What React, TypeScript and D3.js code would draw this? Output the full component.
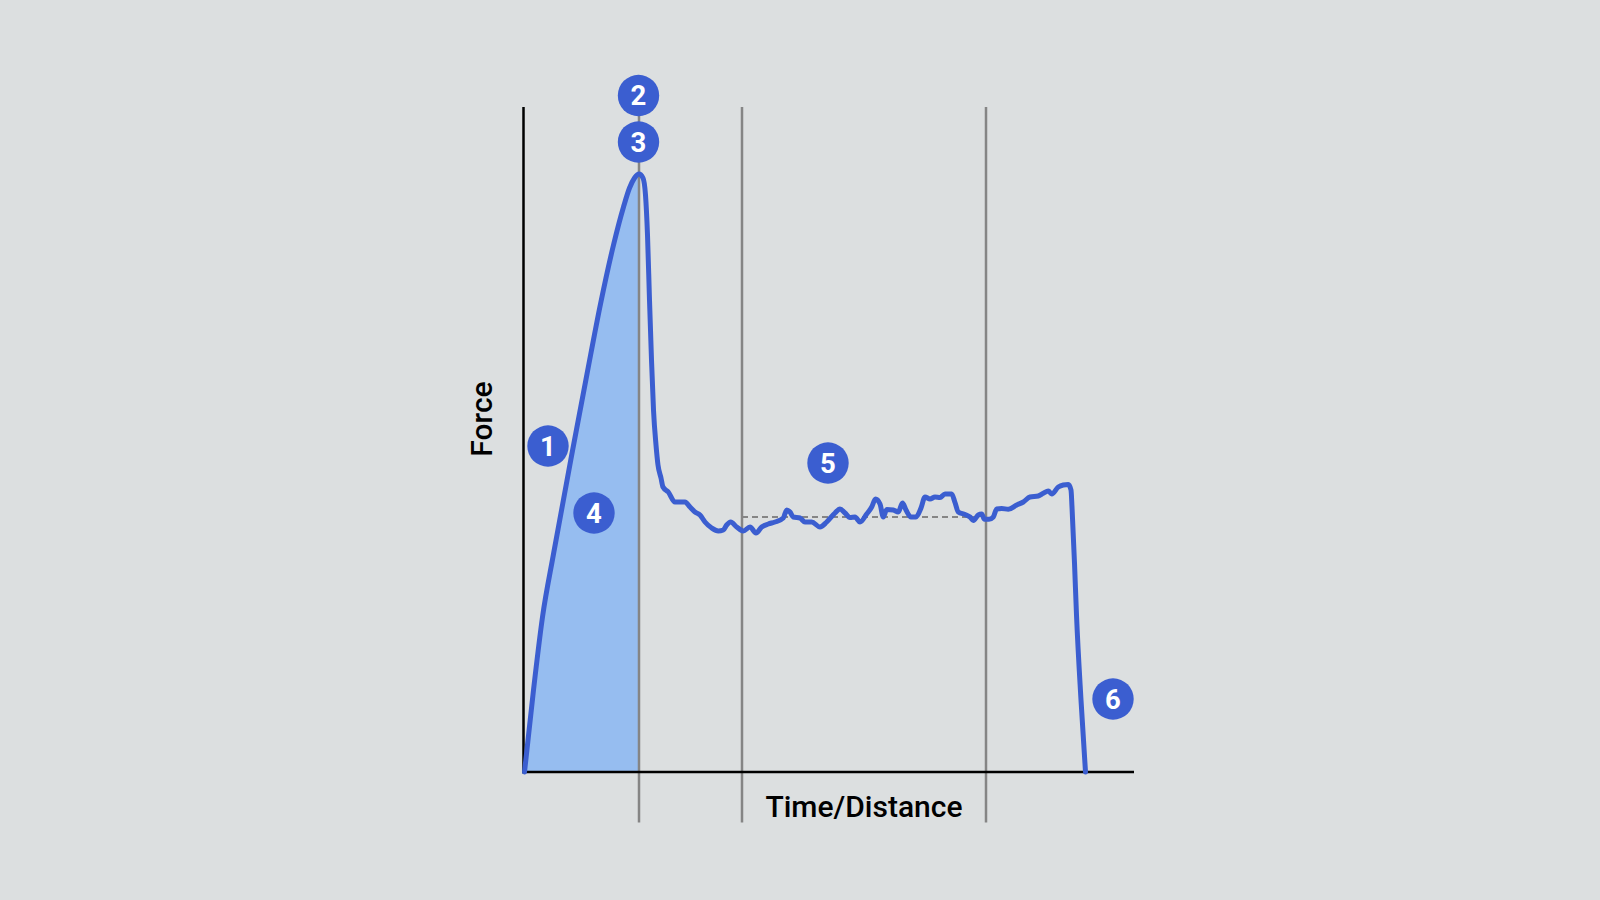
import React from "react";
import * as d3 from "d3";

// Force curve (time/distance units, force units)
const riseT = [1, 10, 19, 30, 48, 63.5, 77, 90, 100, 106, 111, 115.5];
const riseF = [0, 82, 155, 218, 316, 398, 468, 527, 565, 584, 594, 598];

const restT = [
  119.5, 122, 124, 126, 128, 130, 132.5, 134.5, 137.5, 139.5, 144.8, 151.5, 158.2, 161.5, 166.5,
  171.5, 176.5, 181.5, 188.2, 194.8, 199.8, 203.2, 207.2, 213.2, 219.8, 226.5, 232.5, 238.2, 244.8,
  251.5, 259.8, 263.2, 266.5, 269.8, 276.5, 281.5, 288.2, 296.5, 303.2, 311.5, 316.5, 321.5, 326.5,
  331.5, 336.5, 343.2, 348.2, 352, 356.5, 359.8, 363.2, 369.8, 374.8, 379, 382.5, 387.5, 392.5,
  397.5, 401.5, 406.5, 411.5, 416.5, 421.5, 428.2, 431.5, 434.8, 441.5, 446.5, 449.8, 454.8, 458.2,
  461, 465.5, 469.8, 473.2, 478.2, 484.8, 493.2, 499.8, 506.5, 514.8, 519.8, 524.8, 528.2, 534.8,
  539.8, 544.8, 547.5, 548.5, 551, 553, 557.5, 562,
];
const restF = [
  594, 577, 537, 472, 412, 362, 327, 307, 294, 285, 280, 270, 270, 270, 265,
  260, 257, 250, 244, 241, 242, 247, 250, 245, 241, 245, 239, 245, 248,
  250, 254, 262, 260, 255, 254, 250, 250, 245, 250, 259, 263, 259, 254.5,
  255, 250, 258, 265, 273, 268, 255, 262.5, 262, 260, 269, 262, 255, 255,
  264, 275, 273, 275, 274.5, 278, 278, 269.5, 260, 257.5, 255, 251.5, 257, 258,
  252.7, 252.7, 255, 263, 263.5, 262.7, 267, 270, 275, 276, 278.7, 281, 278, 285,
  287, 287.5, 282, 265, 209, 157, 72, 0,
];

// Reference lines
const gridT = [115.5, 218.5, 462.5];
const meanForce = 255;
const meanFrom = 218.5;
const meanTo = 462.5;

// Numbered callouts
const calloutLabels = ["1", "2", "3", "4", "5", "6"];
const calloutT = [24.5, 115, 115, 70.5, 304.5, 589.5];
const calloutF = [326, 676.5, 630, 259, 309, 73];

const xMax = 610.5;
const yMax = 665;

const BLUE = "#3b5ed0";
const FILL = "#96bdf0";
const GRID = "#858585";
const FONT = "Roboto, 'Noto Sans', sans-serif";

export default function App() {
  const x = d3.scaleLinear().domain([0, xMax]).range([523.5, 1134]);
  const y = d3.scaleLinear().domain([0, yMax]).range([772, 107]);

  const rise = riseT.map((t, i) => [t, riseF[i]] as [number, number]);
  const rest = restT.map((t, i) => [t, restF[i]] as [number, number]);
  const all = rise.concat(rest);

  const line = d3
    .line<[number, number]>()
    .x((d) => x(d[0]))
    .y((d) => y(d[1]))
    .curve(d3.curveMonotoneX);
  const area = d3
    .area<[number, number]>()
    .x((d) => x(d[0]))
    .y0(y(0))
    .y1((d) => y(d[1]))
    .curve(d3.curveMonotoneX);

  return (
    <svg
      width={1600}
      height={900}
      style={{ position: "absolute", left: 0, top: 0, display: "block" }}
    >
      <rect x={0} y={0} width={1600} height={900} fill="#dcdfe0" />
      <path d={area([[0, 0] as [number, number]].concat(rise)) || ""} fill={FILL} />
      {gridT.map((t, i) => (
        <line
          key={i}
          x1={x(t)}
          x2={x(t)}
          y1={y(yMax)}
          y2={y(-50.5)}
          stroke={GRID}
          strokeWidth={2.5}
        />
      ))}
      <line
        x1={x(meanFrom)}
        x2={x(meanTo)}
        y1={y(meanForce)}
        y2={y(meanForce)}
        stroke={GRID}
        strokeWidth={2}
        strokeDasharray="6 4"
      />
      <line x1={x(0)} x2={x(0)} y1={y(yMax)} y2={y(0) + 1.25} stroke="#000" strokeWidth={2.5} />
      <line x1={x(0) - 1.25} x2={x(xMax)} y1={y(0)} y2={y(0)} stroke="#000" strokeWidth={2.5} />
      <path
        d={line(all) || ""}
        fill="none"
        stroke={BLUE}
        strokeWidth={5}
        strokeLinejoin="round"
        strokeLinecap="round"
      />
      {calloutLabels.map((lab, i) => (
        <g key={lab} transform={`translate(${x(calloutT[i])},${y(calloutF[i])})`}>
          <circle r={20.7} fill={BLUE} />
          <text
            y={9.8}
            textAnchor="middle"
            fill="#fff"
            fontFamily={FONT}
            fontWeight={700}
            fontSize={27.5}
          >
            {lab}
          </text>
        </g>
      ))}
      <text
        transform="translate(491.5,419) rotate(-90)"
        textAnchor="middle"
        fontFamily={FONT}
        fontWeight={500}
        fontSize={30}
        fill="#000"
      >
        Force
      </text>
      <text
        x={864}
        y={817}
        textAnchor="middle"
        fontFamily={FONT}
        fontWeight={500}
        fontSize={30}
        fill="#000"
      >
        Time/Distance
      </text>
    </svg>
  );
}
